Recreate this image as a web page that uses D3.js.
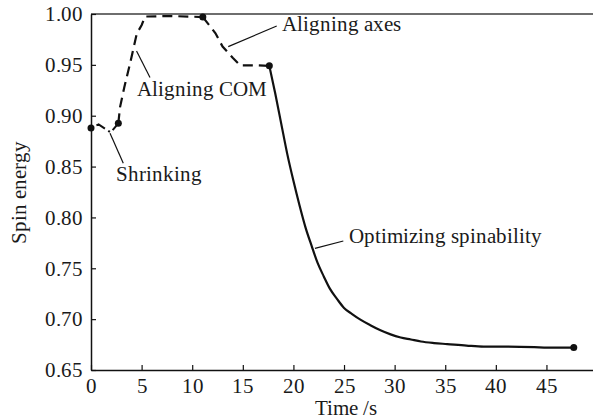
<!DOCTYPE html>
<html>
<head>
<meta charset="utf-8">
<script src="https://cdn.jsdelivr.net/npm/d3@7/dist/d3.min.js"></script>
<style>
  @font-face {
    font-family: 'RefSerif';
    src: local('Liberation Serif'), local('LiberationSerif'), local('LiberationSerif-Regular'),
         local('Liberation Serif Regular'), local('Times New Roman'), local('TimesNewRomanPSMT');
  }
  html, body { margin: 0; padding: 0; background: #fff; }
  #chart text { font-family: 'RefSerif', 'Liberation Serif', 'Times New Roman', Times, serif !important; }
</style>
</head>
<body>
<svg id="chart" width="593" height="420" style="display:block"></svg>
<script>
// ---- Data ----
const xTicks = [0, 5, 10, 15, 20, 25, 30, 35, 40, 45];
const yTicks = [0.65, 0.70, 0.75, 0.80, 0.85, 0.90, 0.95, 1.00];

const shrinkT = [0, 0.75, 1.95, 2.7];
const shrinkE = [0.888, 0.8915, 0.8835, 0.8925];

const comT = [2.7, 2.87, 3.29, 3.85, 4.52, 5.01, 5.34, 8.0, 11.05];
const comE = [0.8925, 0.9085, 0.928, 0.951, 0.9805, 0.9892, 0.9975, 0.998, 0.997];

const axesT = [11.05, 12.3, 13.0, 14.0, 14.75, 16.5, 17.62];
const axesE = [0.997, 0.981, 0.968, 0.957, 0.9495, 0.9495, 0.949];

const optT = [17.62, 18.2, 18.8, 19.4, 20.0, 20.6, 21.2, 21.8, 22.4, 23.0, 23.6, 24.3, 25.0, 25.8, 26.7, 27.6, 28.6, 29.6, 30.6, 31.6, 32.6, 33.9, 35.2, 37.1, 38.8, 41.1, 43.8, 45.1, 47.7];
const optE = [0.949, 0.922, 0.892, 0.862, 0.836, 0.812, 0.790, 0.772, 0.755, 0.742, 0.730, 0.720, 0.711, 0.705, 0.699, 0.694, 0.689, 0.685, 0.682, 0.680, 0.678, 0.6765, 0.6755, 0.674, 0.673, 0.673, 0.6725, 0.672, 0.672];

const markerT = [0, 2.7, 11.05, 17.62, 47.7];
const markerE = [0.888, 0.8925, 0.997, 0.949, 0.672];

const labels = ["Shrinking", "Aligning COM", "Aligning axes", "Optimizing spinability"];
const labelT = [2.47, 4.58, 18.87, 25.52];
const labelE = [0.8358, 0.9194, 0.9833, 0.7746];
const leaderT1 = [1.88, 4.5, 13.56, 22.13];
const leaderE1 = [0.8827, 0.9636, 0.9679, 0.7696];
const leaderT2 = [3.19, 5.83, 18.35, 24.93];
const leaderE2 = [0.8532, 0.9376, 0.9882, 0.7768];

// ---- Layout ----
const FONT = "RefSerif, Liberation Serif, Times New Roman, serif";
const TXT = "#1a1a1a";
const svg = d3.select("#chart");
const mLeft = 91, mRight = 593, mTop = 14, mBottom = 370;
const x = d3.scaleLinear().domain([0, 49.6]).range([mLeft, mRight]);
const y = d3.scaleLinear().domain([0.65, 1.0]).range([mBottom, mTop]);
const fs = 21;

function serif(sel) {
  return sel.attr("font-family", FONT).attr("font-size", fs).style("font-size", fs + "px");
}

// Top frame line (grey)
svg.append("line")
  .attr("x1", mLeft).attr("x2", mRight)
  .attr("y1", y(1.0)).attr("y2", y(1.0))
  .attr("stroke", "#6e6e6e").attr("stroke-width", 2);

// Axes
const xAxis = d3.axisBottom(x).tickValues(xTicks).tickFormat(d3.format("d"))
  .tickSizeInner(-5).tickSizeOuter(0).tickPadding(8);
const gx = svg.append("g").attr("transform", `translate(0,${mBottom})`).call(xAxis);
gx.attr("font-family", FONT).attr("font-size", fs);
gx.select(".domain").attr("stroke", "#111").attr("stroke-width", 1.5);
gx.selectAll(".tick line").attr("stroke", "#111").attr("stroke-width", 1.2);
serif(gx.selectAll(".tick text")).attr("fill", TXT);

const yAxis = d3.axisLeft(y).tickValues(yTicks).tickFormat(d3.format(".2f"))
  .tickSizeInner(-5).tickSizeOuter(0).tickPadding(8);
const gy = svg.append("g").attr("transform", `translate(${mLeft},0)`).call(yAxis);
gy.attr("font-family", FONT).attr("font-size", fs);
gy.select(".domain").attr("stroke", "#111").attr("stroke-width", 1.5);
gy.selectAll(".tick line").attr("stroke", "#111").attr("stroke-width", 1.2);
serif(gy.selectAll(".tick text")).attr("fill", TXT);

// Axis titles
serif(svg.append("text"))
  .attr("x", 346).attr("y", 415).attr("fill", TXT)
  .attr("text-anchor", "middle")
  .text("Time /s");
serif(svg.append("text"))
  .attr("transform", `translate(26,${(mTop + mBottom) / 2}) rotate(-90)`).attr("fill", TXT)
  .attr("text-anchor", "middle")
  .text("Spin energy");

// Lines
const line = d3.line().x(d => x(d[0])).y(d => y(d[1]));
const zip = (a, b) => a.map((v, i) => [v, b[i]]);

svg.append("path").datum(zip(shrinkT, shrinkE))
  .attr("d", line).attr("fill", "none").attr("stroke", "#111")
  .attr("stroke-width", 2).attr("stroke-dasharray", "10,4,2,4").attr("stroke-dashoffset", -6);

svg.append("path").datum(zip(comT, comE))
  .attr("d", line).attr("fill", "none").attr("stroke", "#111")
  .attr("stroke-width", 2.2).attr("stroke-dasharray", "10,6");

svg.append("path").datum(zip(axesT, axesE))
  .attr("d", line).attr("fill", "none").attr("stroke", "#111")
  .attr("stroke-width", 2.2).attr("stroke-dasharray", "10,6");

svg.append("path").datum(zip(optT, optE))
  .attr("d", d3.line().x(d => x(d[0])).y(d => y(d[1])).curve(d3.curveMonotoneX))
  .attr("fill", "none").attr("stroke", "#111").attr("stroke-width", 2.2);

// Markers
svg.selectAll("circle.m").data(zip(markerT, markerE)).join("circle")
  .attr("class", "m")
  .attr("cx", d => x(d[0])).attr("cy", d => y(d[1])).attr("r", 3.5)
  .attr("fill", "#111");

// Annotations
labels.forEach((t, i) => {
  svg.append("line")
    .attr("x1", x(leaderT1[i])).attr("y1", y(leaderE1[i]))
    .attr("x2", x(leaderT2[i])).attr("y2", y(leaderE2[i]))
    .attr("stroke", "#111").attr("stroke-width", 1.2);
  serif(svg.append("text"))
    .attr("x", x(labelT[i])).attr("y", y(labelE[i])).attr("fill", TXT)
    .text(t);
});
</script>
</body>
</html>
